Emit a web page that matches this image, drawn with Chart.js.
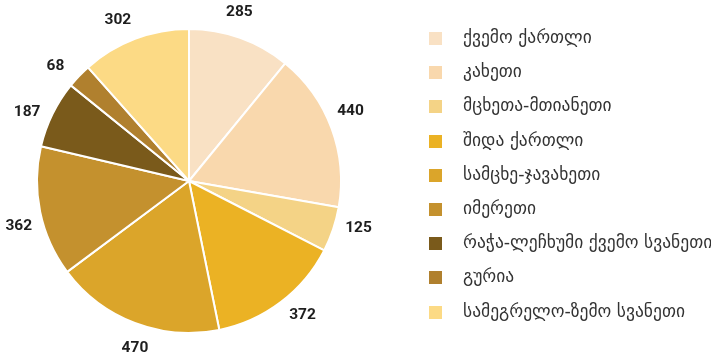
<!DOCTYPE html>
<html>
<head>
<meta charset="utf-8">
<script src="https://cdn.jsdelivr.net/npm/chart.js@4.4.1/dist/chart.umd.min.js"></script>
<style>
  html, body { margin: 0; padding: 0; background: #ffffff; }
  #wrap { width: 711px; height: 354px; position: relative; }
</style>
</head>
<body>
<div id="wrap"><canvas id="c" width="711" height="354"></canvas></div>
<script>
// Regions and their counts
const regions = [
  'ქვემო ქართლი',
  'კახეთი',
  'მცხეთა-მთიანეთი',
  'შიდა ქართლი',
  'სამცხე-ჯავახეთი',
  'იმერეთი',
  'რაჭა-ლეჩხუმი ქვემო სვანეთი',
  'გურია',
  'სამეგრელო-ზემო სვანეთი'
];
const counts = [285, 440, 125, 372, 470, 362, 187, 68, 302];
const sliceColors = [
  '#F9E1C4', '#F9D8AD', '#F4D386', '#EBB224', '#DBA52A',
  '#C4912E', '#7A5A1B', '#B0802E', '#FCDA85'
];

// Value labels placed just outside each slice
const valueLabels = {
  id: 'valueLabels',
  afterDatasetsDraw(chart) {
    const meta = chart.getDatasetMeta(0);
    const ctx = chart.ctx;
    ctx.save();
    ctx.font = 'bold 15.5px Roboto';
    ctx.fillStyle = '#1e1e1e';
    ctx.textAlign = 'center';
    ctx.textBaseline = 'middle';
    meta.data.forEach((arc, i) => {
      const p = arc.getProps(['x', 'y', 'startAngle', 'endAngle', 'outerRadius'], true);
      const mid = (p.startAngle + p.endAngle) / 2 - 3 * Math.PI / 180;
      const r = p.outerRadius + 24;
      ctx.fillText(String(counts[i]), p.x + Math.cos(mid) * r, p.y + Math.sin(mid) * r);
    });
    ctx.restore();
  }
};

// Vertical legend on the right
const sideLegend = {
  id: 'sideLegend',
  afterDraw(chart) {
    const ctx = chart.ctx;
    const x0 = 429, y0 = 38.5, step = 34.2, box = 13;
    ctx.save();
    ctx.font = '17.5px "DejaVu Sans"';
    ctx.textBaseline = 'middle';
    ctx.textAlign = 'left';
    chart.data.labels.forEach((lab, i) => {
      const y = y0 + i * step;
      ctx.fillStyle = sliceColors[i];
      ctx.fillRect(x0, Math.round(y - box / 2), box, box);
      ctx.fillStyle = '#333333';
      ctx.fillText(lab, x0 + 34, y);
    });
    ctx.restore();
  }
};

new Chart(document.getElementById('c'), {
  type: 'pie',
  data: {
    labels: regions,
    datasets: [{
      data: counts,
      backgroundColor: sliceColors,
      borderColor: '#ffffff',
      borderWidth: 2
    }]
  },
  options: {
    responsive: false,
    animation: false,
    layout: { padding: { left: 36, right: 369, top: 28, bottom: 20 } },
    plugins: {
      legend: { display: false },
      tooltip: { enabled: false }
    }
  },
  plugins: [valueLabels, sideLegend]
});
</script>
</body>
</html>
